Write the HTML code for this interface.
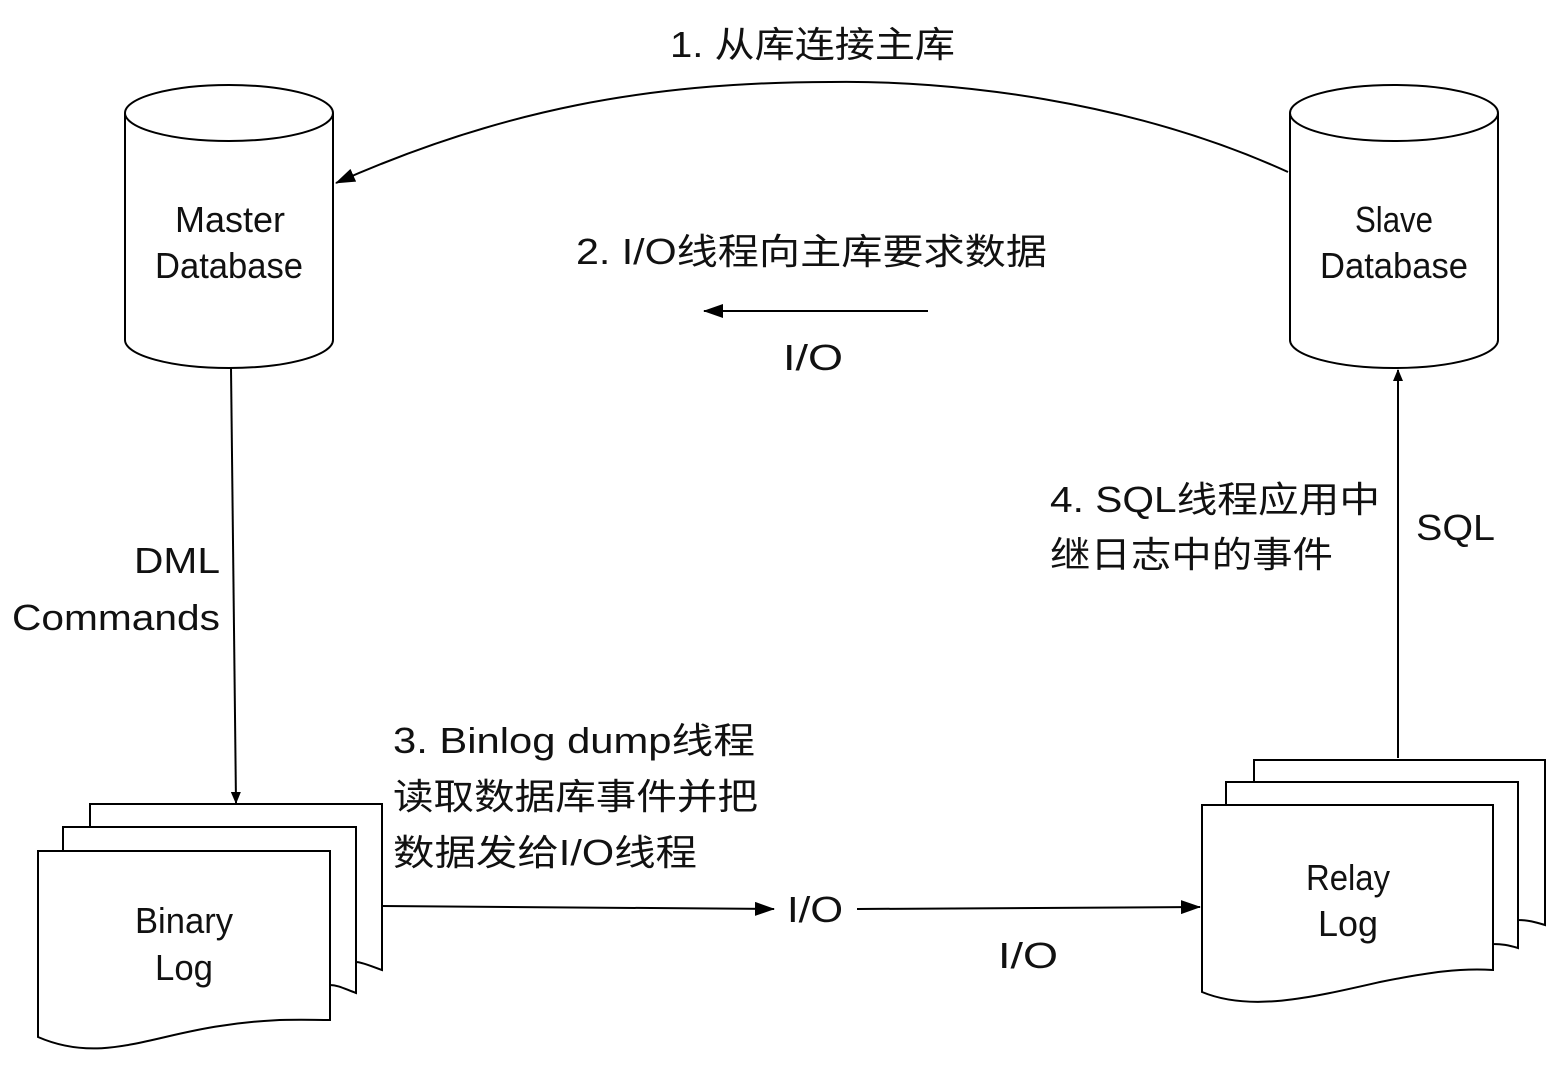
<!DOCTYPE html>
<html><head><meta charset="utf-8"><style>
html,body{margin:0;padding:0;background:#fff;}
svg{display:block;}
text{font-family:"Liberation Sans","Noto Sans CJK SC",sans-serif;fill:#111;}
</style></head><body>
<svg width="1551" height="1070" viewBox="0 0 1551 1070" xmlns="http://www.w3.org/2000/svg">
<defs>
<marker id="ah" markerWidth="12" markerHeight="10" refX="11" refY="5" orient="auto" markerUnits="userSpaceOnUse">
<path d="M0,0 L12,5 L0,10 Z" fill="#000"/>
</marker>
<marker id="ah2" markerWidth="20" markerHeight="14" refX="19" refY="7" orient="auto" markerUnits="userSpaceOnUse">
<path d="M0,0 L20,7 L0,14 Z" fill="#000"/>
</marker>
</defs>
<g stroke="#000" stroke-width="2" fill="#fff">
<path d="M125,113 L125,340 A104,28 0 0 0 333,340 L333,113"/>
<ellipse cx="229" cy="113" rx="104" ry="28"/>
<path d="M1290,113 L1290,340 A104,28 0 0 0 1498,340 L1498,113"/>
<ellipse cx="1394" cy="113" rx="104" ry="28"/>
<path d="M90,804 L382,804 L382,970 C370,966 362,962 356,962 L356,827 L90,827 Z"/>
<path d="M63,827 L356,827 L356,993 C345,989 338,985 330,985 L330,851 L63,851 Z"/>
<path d="M38,851 L330,851 L330,1020 C300,1020 270,1018 220,1026 C150,1036 100,1064 38,1037 Z"/>
<path d="M1254,760 L1545,760 L1545,925 C1535,922 1528,920 1518,920 L1518,782 L1254,782 Z"/>
<path d="M1226,782 L1518,782 L1518,948 C1508,945 1502,944 1493,944 L1493,805 L1226,805 Z"/>
<path d="M1202,805 L1493,805 L1493,970 C1460,968 1430,972 1380,982 C1310,998 1250,1012 1202,992 Z"/>
</g>
<g stroke="#000" stroke-width="2" fill="none">
<path d="M1288,172 C1130,100 950,80 830,82 C650,82 500,110 336,183" marker-end="url(#ah2)"/>
<line x1="928" y1="311" x2="704" y2="311" marker-end="url(#ah2)"/>
<line x1="231" y1="368" x2="236" y2="803" marker-end="url(#ah)"/>
<line x1="382" y1="906" x2="774" y2="909" marker-end="url(#ah2)"/>
<line x1="857" y1="909" x2="1200" y2="907" marker-end="url(#ah2)"/>
<line x1="1398" y1="758" x2="1398" y2="370" marker-end="url(#ah)"/>
</g>
<g font-size="36" lengthAdjust="spacingAndGlyphs">
<text x="175" y="232" textLength="110" lengthAdjust="spacingAndGlyphs">Master</text>
<text x="155" y="278" textLength="148" lengthAdjust="spacingAndGlyphs">Database</text>
<text x="1355" y="232" textLength="78" lengthAdjust="spacingAndGlyphs">Slave</text>
<text x="1320" y="278" textLength="148" lengthAdjust="spacingAndGlyphs">Database</text>
<text x="135" y="933" textLength="98" lengthAdjust="spacingAndGlyphs">Binary</text>
<text x="155" y="980" textLength="58" lengthAdjust="spacingAndGlyphs">Log</text>
<text x="1306" y="890" textLength="84" lengthAdjust="spacingAndGlyphs">Relay</text>
<text x="1318" y="936" textLength="60" lengthAdjust="spacingAndGlyphs">Log</text>
<text x="670" y="57" textLength="285" lengthAdjust="spacingAndGlyphs">1. 从库连接主库</text>
<text x="576" y="264" textLength="471" lengthAdjust="spacingAndGlyphs">2. I/O线程向主库要求数据</text>
<text x="783" y="370" textLength="60" lengthAdjust="spacingAndGlyphs">I/O</text>
<text x="787" y="922" textLength="56" lengthAdjust="spacingAndGlyphs">I/O</text>
<text x="998" y="968" textLength="60" lengthAdjust="spacingAndGlyphs">I/O</text>
<text x="134" y="573" textLength="86" lengthAdjust="spacingAndGlyphs">DML</text>
<text x="12" y="630" textLength="208" lengthAdjust="spacingAndGlyphs">Commands</text>
<text x="1416" y="540" textLength="79" lengthAdjust="spacingAndGlyphs">SQL</text>
<text x="1050" y="512" textLength="330" lengthAdjust="spacingAndGlyphs">4. SQL线程应用中</text>
<text x="1050" y="567" textLength="283" lengthAdjust="spacingAndGlyphs">继日志中的事件</text>
<text x="393" y="753" textLength="362" lengthAdjust="spacingAndGlyphs">3. Binlog dump线程</text>
<text x="393" y="809" textLength="365" lengthAdjust="spacingAndGlyphs">读取数据库事件并把</text>
<text x="393" y="865" textLength="304" lengthAdjust="spacingAndGlyphs">数据发给I/O线程</text>
</g>
</svg>
</body></html>
